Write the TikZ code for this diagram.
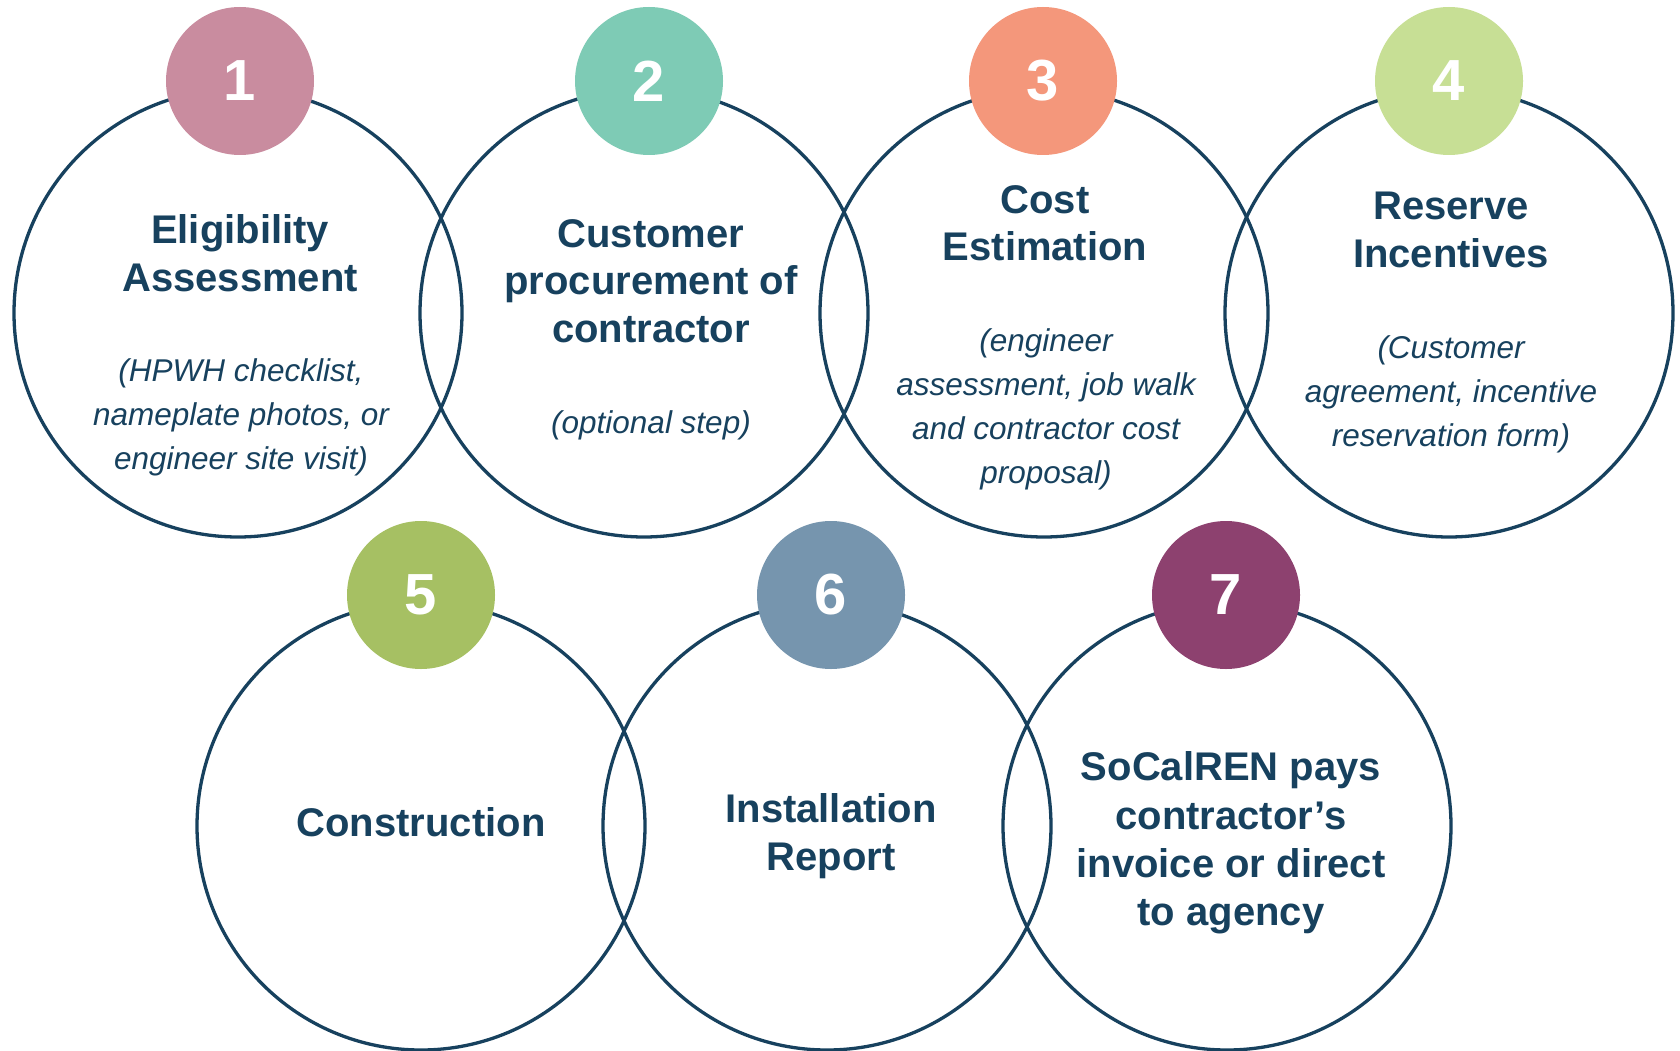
\documentclass[tikz,border=0pt]{standalone}
\usepackage{fontspec}
\setmainfont{Liberation Sans}
\definecolor{navy}{HTML}{17415E}
\definecolor{bpink}{HTML}{C98C9F}
\definecolor{bteal}{HTML}{7ECBB5}
\definecolor{bsalmon}{HTML}{F4977B}
\definecolor{blgreen}{HTML}{C7DF95}
\definecolor{bgreen}{HTML}{A6C063}
\definecolor{bblue}{HTML}{7695AE}
\definecolor{bpurple}{HTML}{8D416F}
\begin{document}
\begin{tikzpicture}[x=1pt,y=-1pt,
  ring/.style={circle, draw=navy, line width=3.3pt, minimum size=448pt, inner sep=0pt},
  badge/.style={circle, minimum size=148pt, inner sep=0pt, text=white, font=\fontsize{58}{60}\selectfont\bfseries},
  title/.style={text=navy, align=center, inner sep=0pt, font=\fontsize{40}{47.5}\selectfont\bfseries},
  sub/.style={text=navy, align=center, inner sep=0pt, font=\fontsize{31.5}{44}\selectfont\itshape}]
\fill[white] (0,0) rectangle (1680,1051);
\useasboundingbox (0,0) rectangle (1680,1051);
% rings
\node[ring] (c1) at (238,313) {};
\node[ring] (c2) at (644,313) {};
\node[ring] (c3) at (1044,313) {};
\node[ring] (c4) at (1449,313) {};
\node[ring] (c5) at (421,826) {};
\node[ring] (c6) at (827,826) {};
\node[ring] (c7) at (1227,826) {};
% badges
\node[badge, fill=bpink] (b1) at (240,81) {1};
\node[badge, fill=bteal] (b2) at (649,81) {2};
\node[badge, fill=bsalmon] (b3) at (1043,81) {3};
\node[badge, fill=blgreen] (b4) at (1449,81) {4};
\node[badge, fill=bgreen] (b5) at (421,595) {5};
\node[badge, fill=bblue] (b6) at (831,595) {6};
\node[badge, fill=bpurple] (b7) at (1226,595) {7};
% titles
\node[title] (t1) at (240,253) {Eligibility\\Assessment};
\node[sub] (s1) at (241,417) {(HPWH checklist,\\nameplate photos, or\\engineer site visit)};
\node[title] (t2) at (651,281) {Customer\\procurement of\\contractor};
\node[sub] (s2) at (651,425) {(optional step)};
\node[title] (t3) at (1045,223) {Cost\\Estimation};
\node[sub] (s3) at (1046,409) {(engineer\\assessment, job walk\\and contractor cost\\proposal)};
\node[title] (t4) at (1451,230) {Reserve\\Incentives};
\node[sub] (s4) at (1451,394) {(Customer\\agreement, incentive\\reservation form)};
\node[title] (t5) at (421,822) {Construction};
\node[title] (t6) at (831,836) {Installation\\Report};
\node[title, font=\fontsize{40}{48.3}\selectfont\bfseries] (t7) at (1231,843) {SoCalREN pays\\contractor’s\\invoice or direct\\to agency};
\end{tikzpicture}
\end{document}
